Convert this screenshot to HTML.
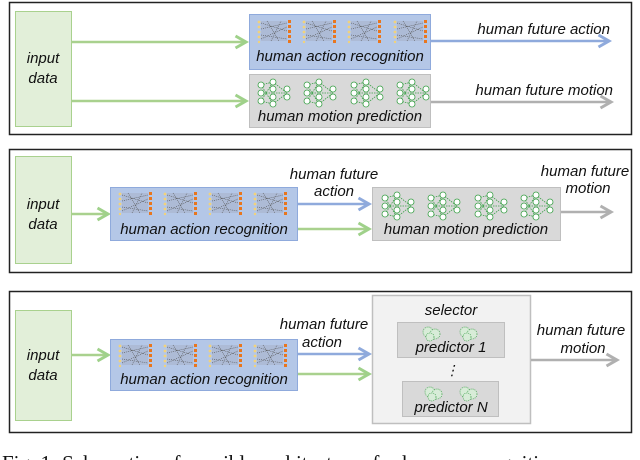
<!DOCTYPE html>
<html><head><meta charset="utf-8"><style>
html,body{margin:0;padding:0;background:#fff;width:640px;height:460px;overflow:hidden}
svg{display:block}
text{font-family:"Liberation Sans",sans-serif;font-style:italic;fill:#111}
</style></head><body>
<svg width="640" height="460" viewBox="0 0 640 460" xmlns="http://www.w3.org/2000/svg">
<defs>
<marker id="ag" viewBox="0 0 10 10" refX="8" refY="5" markerWidth="6" markerHeight="6" orient="auto"><path d="M1,1 L8,5 L1,9" fill="none" stroke="#9fd18a" stroke-width="2"/></marker>
<marker id="ab" viewBox="0 0 10 10" refX="8" refY="5" markerWidth="6" markerHeight="6" orient="auto"><path d="M1,1 L8,5 L1,9" fill="none" stroke="#8faadc" stroke-width="2"/></marker>
<marker id="ay" viewBox="0 0 10 10" refX="8" refY="5" markerWidth="6" markerHeight="6" orient="auto"><path d="M1,1 L8,5 L1,9" fill="none" stroke="#b0b0b0" stroke-width="2"/></marker>
<g id="an">
<rect x="4" y="2" width="26" height="20" fill="#a8b0c8" opacity="0.55"/>
<path d="M4,4 L30,12 M4,10 L30,4 M4,16 L30,20 M4,20 L30,8 M10,2 L22,22 M14,22 L24,2" stroke="#555" stroke-width="0.6" stroke-dasharray="1 1"/>
<g fill="#f2d27a"><circle cx="2" cy="3" r="1.4"/><circle cx="2" cy="8" r="1.4"/><circle cx="2" cy="13" r="1.4"/><circle cx="2" cy="18" r="1.4"/><circle cx="2" cy="23" r="1.2"/></g>
<g fill="#e8761e"><rect x="31" y="1" width="3" height="3"/><rect x="31" y="6" width="3" height="3"/><rect x="31" y="11" width="3" height="3"/><rect x="31" y="16" width="3" height="3"/><rect x="31" y="21" width="3" height="3"/></g>
</g>
<g id="mn" fill="#fff" stroke="#3aa047" stroke-width="0.8">
<path d="M4,6 L16,3 L30,14 M4,14 L16,14 L30,14 M4,22 L16,25 L30,14 M4,6 L16,25 M4,22 L16,3" fill="none" stroke-dasharray="1.5 1"/>
<circle cx="4" cy="6" r="3"/><circle cx="4" cy="14" r="3"/><circle cx="4" cy="22" r="3"/>
<circle cx="16" cy="3" r="3"/><circle cx="16" cy="10" r="3"/><circle cx="16" cy="18" r="3"/><circle cx="16" cy="25" r="3"/>
<circle cx="30" cy="10" r="3"/><circle cx="30" cy="18" r="3"/>
</g>
<g id="sn" fill="#d8ecd8" stroke="#3aa047" stroke-width="0.7" stroke-dasharray="1 1"><circle cx="6" cy="6" r="5"/><circle cx="13" cy="8" r="5"/><circle cx="8" cy="11" r="4"/></g>
</defs>

<!-- Panel 1 -->
<rect x="9.5" y="2.5" width="622" height="132" fill="#fff" stroke="#222" stroke-width="1.5"/>
<rect x="15.5" y="11.5" width="56" height="115" fill="#e2efd9" stroke="#a9d18e"/>
<text x="43" y="63" font-size="15" text-anchor="middle">input</text>
<text x="43" y="83" font-size="15" text-anchor="middle">data</text>
<line x1="71" y1="42" x2="246" y2="42" stroke="#a9d18e" stroke-width="2.5" marker-end="url(#ag)"/>
<line x1="71" y1="101" x2="246" y2="101" stroke="#a9d18e" stroke-width="2.5" marker-end="url(#ag)"/>
<rect x="249.5" y="14.5" width="181" height="55" fill="#b4c7e7" stroke="#8faadc"/>
<use href="#an" x="257" y="19"/><use href="#an" x="302" y="19"/><use href="#an" x="347" y="19"/><use href="#an" x="393" y="19"/>
<text x="340" y="61" font-size="15" text-anchor="middle">human action recognition</text>
<rect x="249.5" y="74.5" width="181" height="53" fill="#d9d9d9" stroke="#bfbfbf"/>
<use href="#mn" x="257" y="79"/><use href="#mn" x="303" y="79"/><use href="#mn" x="350" y="79"/><use href="#mn" x="396" y="79"/>
<text x="340" y="121" font-size="15" text-anchor="middle">human motion prediction</text>
<line x1="431" y1="41" x2="609" y2="41" stroke="#8faadc" stroke-width="2.5" marker-end="url(#ab)"/>
<text x="610" y="34" font-size="15" text-anchor="end">human future action</text>
<line x1="431" y1="102" x2="611" y2="102" stroke="#b0b0b0" stroke-width="2.5" marker-end="url(#ay)"/>
<text x="613" y="95" font-size="15" text-anchor="end">human future motion</text>

<!-- Panel 2 -->
<rect x="9.5" y="149.5" width="622" height="123" fill="#fff" stroke="#222" stroke-width="1.5"/>
<rect x="15.5" y="156.5" width="56" height="107" fill="#e2efd9" stroke="#a9d18e"/>
<text x="43" y="209" font-size="15" text-anchor="middle">input</text>
<text x="43" y="229" font-size="15" text-anchor="middle">data</text>
<line x1="71" y1="214" x2="108" y2="214" stroke="#a9d18e" stroke-width="2.5" marker-end="url(#ag)"/>
<rect x="110.5" y="187.5" width="187" height="53" fill="#b4c7e7" stroke="#8faadc"/>
<use href="#an" x="118" y="191"/><use href="#an" x="163" y="191"/><use href="#an" x="208" y="191"/><use href="#an" x="253" y="191"/>
<text x="204" y="234" font-size="15" text-anchor="middle">human action recognition</text>
<line x1="298" y1="204" x2="369" y2="204" stroke="#8faadc" stroke-width="2.5" marker-end="url(#ab)"/>
<line x1="298" y1="229" x2="369" y2="229" stroke="#a9d18e" stroke-width="2.5" marker-end="url(#ag)"/>
<text x="334" y="179" font-size="15" text-anchor="middle">human future</text>
<text x="334" y="196" font-size="15" text-anchor="middle">action</text>
<rect x="372.5" y="187.5" width="188" height="53" fill="#d9d9d9" stroke="#bfbfbf"/>
<use href="#mn" x="381" y="192"/><use href="#mn" x="427" y="192"/><use href="#mn" x="474" y="192"/><use href="#mn" x="520" y="192"/>
<text x="466" y="234" font-size="15" text-anchor="middle">human motion prediction</text>
<line x1="561" y1="212" x2="611" y2="212" stroke="#b0b0b0" stroke-width="2.5" marker-end="url(#ay)"/>
<text x="585" y="176" font-size="15" text-anchor="middle">human future</text>
<text x="588" y="193" font-size="15" text-anchor="middle">motion</text>

<!-- Panel 3 -->
<rect x="9.5" y="291.5" width="622" height="141" fill="#fff" stroke="#222" stroke-width="1.5"/>
<rect x="15.5" y="310.5" width="56" height="110" fill="#e2efd9" stroke="#a9d18e"/>
<text x="43" y="360" font-size="15" text-anchor="middle">input</text>
<text x="43" y="380" font-size="15" text-anchor="middle">data</text>
<line x1="71" y1="355" x2="108" y2="355" stroke="#a9d18e" stroke-width="2.5" marker-end="url(#ag)"/>
<rect x="110.5" y="339.5" width="187" height="51" fill="#b4c7e7" stroke="#8faadc"/>
<use href="#an" x="118" y="343"/><use href="#an" x="163" y="343"/><use href="#an" x="208" y="343"/><use href="#an" x="253" y="343"/>
<text x="204" y="384" font-size="15" text-anchor="middle">human action recognition</text>
<line x1="298" y1="354" x2="369" y2="354" stroke="#8faadc" stroke-width="2.5" marker-end="url(#ab)"/>
<line x1="298" y1="374" x2="369" y2="374" stroke="#a9d18e" stroke-width="2.5" marker-end="url(#ag)"/>
<text x="324" y="329" font-size="15" text-anchor="middle">human future</text>
<text x="322" y="347" font-size="15" text-anchor="middle">action</text>
<rect x="372.5" y="295.5" width="158" height="128" fill="#f2f2f2" stroke="#bfbfbf" stroke-width="1.5"/>
<text x="451" y="315" font-size="15" text-anchor="middle">selector</text>
<rect x="397.5" y="322.5" width="107" height="35" fill="#d9d9d9" stroke="#bfbfbf"/>
<use href="#sn" x="422" y="326"/><use href="#sn" x="459" y="326"/>
<text x="451" y="352" font-size="15" text-anchor="middle">predictor 1</text>
<text x="452" y="375" font-size="14" text-anchor="middle" font-style="normal">⋮</text>
<rect x="402.5" y="381.5" width="96" height="35" fill="#d9d9d9" stroke="#bfbfbf"/>
<use href="#sn" x="424" y="386"/><use href="#sn" x="459" y="386"/>
<text x="451" y="412" font-size="15" text-anchor="middle">predictor N</text>
<line x1="531" y1="360" x2="617" y2="360" stroke="#b0b0b0" stroke-width="2.5" marker-end="url(#ay)"/>
<text x="581" y="335" font-size="15" text-anchor="middle">human future</text>
<text x="583" y="353" font-size="15" text-anchor="middle">motion</text>

<text x="2" y="470" font-size="21" style="font-family:'Liberation Serif',serif;font-style:normal">Fig. 1: Schematics of possible architectures for human recognition</text>
</svg>
</body></html>
